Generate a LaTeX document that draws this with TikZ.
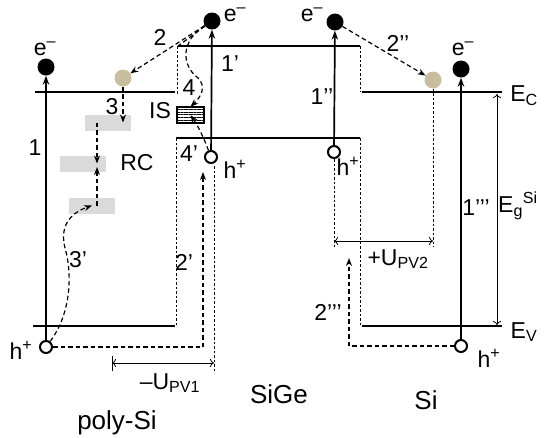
\documentclass[tikz,border=0pt]{standalone}
\usepackage{fontspec}
\setmainfont{Liberation Sans}
\usetikzlibrary{arrows.meta,patterns.meta,calc}
\definecolor{trapcol}{RGB}{200,190,158}
\definecolor{rcgray}{RGB}{218,218,218}
\tikzset{
  band/.style={line width=2.8pt},
  guide/.style={dash pattern=on 2.5pt off 2pt,line width=0.7pt},
  trans/.style={line width=1.7pt,-{Stealth[length=9pt,width=6.5pt]}},
  hopline/.style={dash pattern=on 4.5pt off 3pt,line width=1.2pt},
  hop/.style={hopline,-{Stealth[length=8pt,width=6pt]}},
  dim/.style={line width=0.8pt,{To[length=4pt,width=8pt]}-{To[length=4pt,width=8pt]}},
  elec/.style={circle,fill=black,minimum size=17pt,inner sep=0pt},
  trap/.style={circle,fill=trapcol,minimum size=17pt,inner sep=0pt},
  hole/.style={circle,draw,line width=2pt,minimum size=12pt,inner sep=0pt},
  rcbox/.style={fill=rcgray,minimum width=46pt,minimum height=16pt,inner sep=0pt},
  isbox/.style={draw,line width=1.2pt,minimum width=27pt,minimum height=16pt,inner sep=0pt,
    pattern={Lines[angle=0,distance=2.6pt,line width=0.5pt]}},
  lbl/.style={font=\fontsize{23}{27}\selectfont,inner sep=0pt},
  big/.style={font=\fontsize{26}{30}\selectfont,inner sep=0pt},
}

\begin{document}
\begin{tikzpicture}[x=1pt,y=-1pt]
    \useasboundingbox (0,0) rectangle (546,437);

    % 能带边 (poly-Si, SiGe, Si)
    \draw[band] (35,92) -- (175,92);
    \draw[band] (33,326) -- (175,326);
    \draw[band] (178,46) -- (360,46);
    \draw[band] (176,138) -- (360,138);
    \draw[band] (362,92) -- (502,92);
    \draw[band] (362,326) -- (502,326);

    % 带阶
    \draw[guide] (177,46) -- (177,94);
    \draw[guide] (176,138) -- (176,326);
    \draw[guide] (360,46) -- (360,92);
    \draw[guide] (360,138) -- (360,326);

    % 复合中心与界面态
    \node[rcbox] (rc1) at (108,122.5) {};
    \node[rcbox] (rc2) at (83,163.5) {};
    \node[rcbox] (rc3) at (92,205.5) {};
    \coordinate (rcx) at (97,0);
    \node[isbox] (is) at (190.5,115) {};

    % 电子, 陷阱, 空穴
    \node[elec] (e1) at (46,67) {};
    \node[elec] (e2) at (212,21) {};
    \node[elec] (e3) at (335,22) {};
    \node[elec] (e4) at (461,69) {};
    \node[trap] (t1) at (123,78) {};
    \node[trap] (t2) at (433,80) {};
    \node[hole] (h1) at (46,347) {};
    \node[hole] (h2) at (211,157) {};
    \node[hole] (h3) at (334,152) {};
    \node[hole] (h4) at (461,346) {};

    \node[lbl] (e1l) at (45,49) {e\textsuperscript{–}};
    \node[lbl] (e2l) at (235,15) {e\textsuperscript{–}};
    \node[lbl] (e3l) at (312,15) {e\textsuperscript{–}};
    \node[lbl] (e4l) at (463,49) {e\textsuperscript{–}};
    \node[lbl] (h1l) at (21,350) {h\textsuperscript{+}};
    \node[lbl] (h2l) at (235,169) {h\textsuperscript{+}};
    \node[lbl] (h3l) at (348,166) {h\textsuperscript{+}};
    \node[lbl] (h4l) at (489,358) {h\textsuperscript{+}};

    % 光激发跃迁
    \draw[trans] (h1) -- (e1);
    \draw[trans] (h2) -- (e2);
    \draw[trans] (h3) -- (e3);
    \draw[trans] (h4) -- (e4);
    \node[lbl] (n1) at (35,148) {1};
    \node[lbl] (n1a) at (230,64) {1’};
    \node[lbl] (n1b) at (322,97) {1’’};
    \node[lbl] (n1c) at (476,208) {1’’’};

    % 载流子输运
    \coordinate (c2) at (178,46);
    \draw[hopline] (e2) -- (c2);
    \draw[hop] (e2) -- (t1);
    \draw[hop] (e3) -- (t2);
    \draw[hop] (t1) -- (t1 |- rc1.center);
    \draw[hop] (rcx |- rc1.center) -- (rcx |- rc2.center);
    \draw[hop] (rcx |- rc3.center) -- ($(rcx |- rc2.center)+(0,3.5)$);
    \draw[hop] (h1) .. controls (72,312) and (72,272) .. (65,248)
        .. controls (60,228) and (68,214) .. (rc3.center);
    \draw[hop] (e2) .. controls (182,40) and (180,64) .. (198,78)
        .. controls (206,86) and (202,96) .. (is.north);
    \draw[hop] (h2) .. controls (203,136) and (198,126) .. (is.center);
    \coordinate (p2) at (203,172);
    \draw[hop] (h1) -- (h1 -| p2) -- (p2);
    \coordinate (p3) at (349,258);
    \draw[hop] (h4) -- (h4 -| p3) -- (p3);

    \node[lbl] (n2) at (160,37) {2};
    \node[lbl] (n2a) at (184,262) {2’};
    \node[lbl] (n2b) at (398,43) {2’’};
    \node[lbl] (n2c) at (328,312) {2’’’};
    \node[lbl] (n3) at (112,107) {3};
    \node[lbl] (n3a) at (78,260) {3’};
    \node[lbl] (n4) at (189,88) {4};
    \node[lbl] (n4a) at (189,154) {4’};
    \node[lbl] (isl) at (160,111) {IS};
    \node[lbl] (rcl) at (137,163) {RC};

    % 光电压
    \draw[guide] (214,166) -- (214,373);
    \draw[line width=0.7pt] (112,356) -- (112,371);
    \coordinate (u1l) at (112,363);
    \coordinate (u1r) at (214,363);
    \draw[dim] (u1l) -- (u1r);
    \node[lbl] (u1) at (170,383) {–U\textsubscript{PV1}};
    \draw[guide] (h3) -- (334,247);
    \draw[guide] (t2) -- (433,247);
    \coordinate (u2l) at (334,241);
    \coordinate (u2r) at (433,241);
    \draw[dim] (u2l) -- (u2r);
    \node[lbl] (u2) at (398,259) {+U\textsubscript{PV2}};

    % 禁带宽度
    \coordinate (gt) at (497,94);
    \coordinate (gb) at (497,325);
    \draw[dim] (gt) -- (gb);
    \node[lbl] (ec) at (524,96) {E\textsubscript{C}};
    \node[lbl] (ev) at (524,332) {E\textsubscript{V}};
    \node[lbl] (eg) at (518,206) {E\textsubscript{g}\textsuperscript{Si}};

    % 材料
    \node[big] (m1) at (117,423) {poly-Si};
    \node[big] (m2) at (279,394) {SiGe};
    \node[big] (m3) at (426,400) {Si};
\end{tikzpicture}
\end{document}
